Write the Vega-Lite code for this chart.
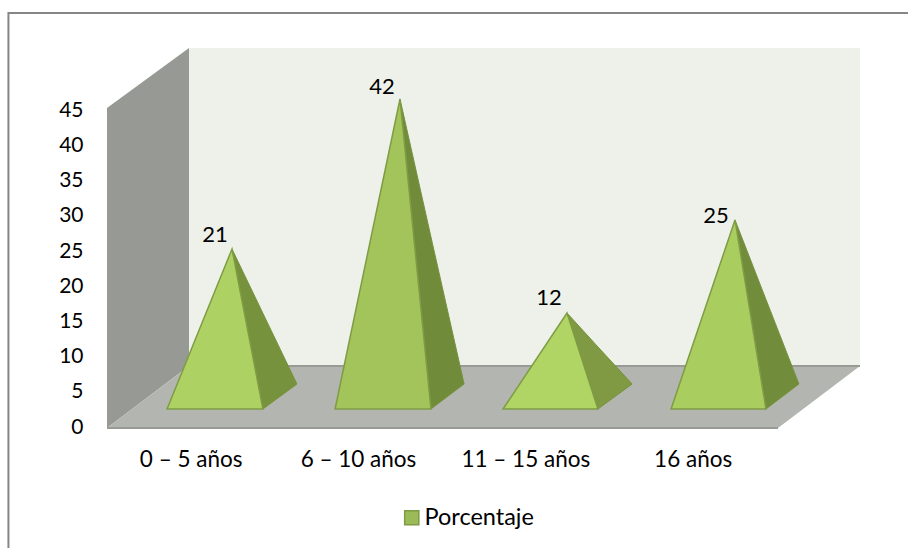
{
"$schema":"https://vega.github.io/schema/vega-lite/v6.json",
"autosize":{"type":"none"},
"padding":{"left":107,"top":47,"right":48,"bottom":121},
"width":753,"height":380,
"background":"white",
"config":{"view":{"stroke":null},"font":"Lato"},
"datasets":{
"caras":[
{"id":"pl","capa":"pared lateral","x":0.5,"y":45.33,"y2":-0.14},
{"id":"pl","capa":"pared lateral","x":0.99,"y":53.86,"y2":8.67},
{"id":"pf","capa":"pared fondo","x":0.99,"y":53.86,"y2":8.67},
{"id":"pf","capa":"pared fondo","x":5.0,"y":53.86,"y2":8.67},
{"id":"s","capa":"suelo","x":0.5,"y":-0.14,"y2":-0.14},
{"id":"s","capa":"suelo","x":0.99,"y":8.67,"y2":-0.14},
{"id":"s","capa":"suelo","x":4.51,"y":8.67,"y2":-0.14},
{"id":"s","capa":"suelo","x":5.0,"y":8.67,"y2":8.67}
],
"bordes":[
{"id":"b1","x":0.5,"y":-0.14},{"id":"b1","x":4.51,"y":-0.14},
{"id":"b2","x":0.99,"y":8.67},{"id":"b2","x":5.0,"y":8.67}
],
"marco":[
{"i":1,"x":-0.089,"y":-17.2},{"i":2,"x":-0.089,"y":58.83},{"i":3,"x":5.287,"y":58.83}
],
"piramides":[
{"id":"l1","capa":"lateral","x":1.247,"y":25.29,"y2":25.29},
{"id":"l1","capa":"lateral","x":1.432,"y":16.14,"y2":2.56},
{"id":"l1","capa":"lateral","x":1.635,"y":6.11,"y2":6.11},
{"id":"f1","capa":"frontal","x":0.859,"y":2.56,"y2":2.56},
{"id":"f1","capa":"frontal","x":1.247,"y":25.29,"y2":2.56},
{"id":"f1","capa":"frontal","x":1.432,"y":2.56,"y2":2.56},
{"id":"l2","capa":"lateral","x":2.251,"y":46.61,"y2":46.61},
{"id":"l2","capa":"lateral","x":2.436,"y":27.0,"y2":2.56},
{"id":"l2","capa":"lateral","x":2.634,"y":6.11,"y2":6.11},
{"id":"f2","capa":"frontal","x":1.863,"y":2.56,"y2":2.56},
{"id":"f2","capa":"frontal","x":2.251,"y":46.61,"y2":2.56},
{"id":"f2","capa":"frontal","x":2.436,"y":2.56,"y2":2.56},
{"id":"l3","capa":"lateral","x":3.249,"y":16.2,"y2":16.2},
{"id":"l3","capa":"lateral","x":3.434,"y":11.38,"y2":2.56},
{"id":"l3","capa":"lateral","x":3.638,"y":6.11,"y2":6.11},
{"id":"f3","capa":"frontal","x":2.867,"y":2.56,"y2":2.56},
{"id":"f3","capa":"frontal","x":3.249,"y":16.2,"y2":2.56},
{"id":"f3","capa":"frontal","x":3.434,"y":2.56,"y2":2.56},
{"id":"l4","capa":"lateral","x":4.253,"y":29.42,"y2":29.42},
{"id":"l4","capa":"lateral","x":4.438,"y":18.13,"y2":2.56},
{"id":"l4","capa":"lateral","x":4.635,"y":6.11,"y2":6.11},
{"id":"f4","capa":"frontal","x":3.871,"y":2.56,"y2":2.56},
{"id":"f4","capa":"frontal","x":4.253,"y":29.42,"y2":2.56},
{"id":"f4","capa":"frontal","x":4.438,"y":2.56,"y2":2.56}
],
"valores":[
{"edad":"0 – 5 años","serie":"Porcentaje","porcentaje":21,"x":1.145,"y":27.28},
{"edad":"6 – 10 años","serie":"Porcentaje","porcentaje":42,"x":2.143,"y":48.3},
{"edad":"11 – 15 años","serie":"Porcentaje","porcentaje":12,"x":3.141,"y":18.33},
{"edad":"16 años","serie":"Porcentaje","porcentaje":25,"x":4.14,"y":30.0}
]
},
"encoding":{
"x":{"field":"x","type":"quantitative","scale":{"domain":[0.5,5],"nice":false,"zero":false},
"axis":{"title":null,"values":[1,2,3,4],"domain":false,"ticks":false,"grid":false,"labelFontSize":22.5,"labelColor":"black","labelPadding":21,"labelFlush":false,"labelExpr":"datum.value==1?'0 – 5 años':datum.value==2?'6 – 10 años':datum.value==3?'11 – 15 años':'16 años'"}},
"y":{"field":"y","type":"quantitative","scale":{"domain":[0,54],"nice":false,"zero":false},
"axis":{"title":null,"values":[0,5,10,15,20,25,30,35,40,45],"domain":false,"ticks":false,"grid":false,"labelFontSize":21,"labelColor":"black","labelPadding":24}}
},
"layer":[
{"data":{"name":"marco"},"mark":{"type":"line","color":"#868686","strokeWidth":2,"clip":false},"encoding":{"order":{"field":"i","type":"ordinal"}}},
{"data":{"name":"caras"},"mark":{"type":"area","clip":false},"encoding":{
"y2":{"field":"y2"},
"detail":{"field":"id"},
"fill":{"field":"id","type":"nominal","legend":null,"scale":{"domain":["pl","pf","s","l1","l2","l3","l4","f1","f2","f3","f4"],"range":["#979a94","#edf1ea","#b3b5b0","#76923c","#708c3a","#7f9a43","#718d3b","#aed163","#a3c45a","#b0d564","#aacd60"]}}}},
{"data":{"name":"bordes"},"mark":{"type":"line","color":"#989a96","strokeWidth":2,"clip":false},"encoding":{"detail":{"field":"id"}}},
{"data":{"name":"piramides"},"transform":[{"filter":"datum.capa=='lateral'"}],"mark":{"type":"area","clip":false,"stroke":"#76923c","strokeWidth":1},"encoding":{"y2":{"field":"y2"},"detail":{"field":"id"},
"fill":{"field":"id","type":"nominal","legend":null}}},
{"data":{"name":"piramides"},"transform":[{"filter":"datum.capa=='frontal'"}],"mark":{"type":"area","clip":false,"stroke":"#7f9c45","strokeWidth":1.5},"encoding":{"y2":{"field":"y2"},"detail":{"field":"id"},
"fill":{"field":"id","type":"nominal","legend":null}}},
{"data":{"name":"valores"},"mark":{"type":"text","fontSize":22,"color":"black","baseline":"middle","align":"center","font":"Lato"},"encoding":{"text":{"field":"porcentaje","type":"quantitative"}}},
{"data":{"name":"valores"},"mark":{"type":"square","size":0,"clip":false,"opacity":1},"encoding":{
"color":{"field":"serie","type":"nominal","scale":{"domain":["Porcentaje"],"range":["#9bbb59"]},
"legend":{"title":null,"orient":"none","legendX":293,"legendY":459,"padding":0,"symbolType":"square","symbolSize":200,"symbolOpacity":1,"symbolStrokeColor":"#7f9c45","symbolStrokeWidth":1.5,"labelFontSize":23.5,"labelColor":"black","labelOffset":1,"labelFont":"Lato"}}}}
]
}
